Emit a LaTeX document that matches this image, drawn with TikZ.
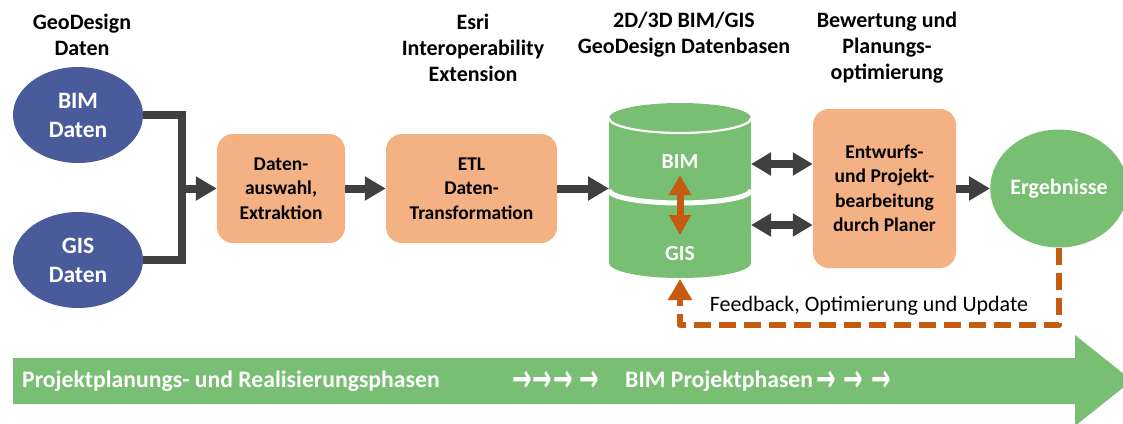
\documentclass[tikz,border=0pt]{standalone}
\usepackage{fontspec}
\usepackage{graphicx}
\setmainfont{Carlito}
\newfontfamily\dejavu{DejaVu Sans}
\usetikzlibrary{arrows.meta,shapes.geometric}
\definecolor{dblue}{HTML}{4A5B9B}
\definecolor{lorange}{HTML}{F4B183}
\definecolor{dorange}{HTML}{C55A11}
\definecolor{lgreen}{HTML}{78BE73}
\definecolor{dgray}{HTML}{404040}
\newcommand{\barr}{\scalebox{0.9}[1.45]{→}}
\tikzset{
  titletext/.style={font=\bfseries\fontsize{22}{26}\selectfont, align=center, text=black},
  procbox/.style={fill=lorange, rounded corners=16pt, font=\bfseries\fontsize{19.5}{24.5}\selectfont, align=center, inner sep=0pt},
  datell/.style={ellipse, fill=dblue, text=white, font=\bfseries\fontsize{23.5}{29}\selectfont, align=center, inner sep=0pt, minimum width=130pt, minimum height=96pt},
  garrow/.style={draw=dgray, line width=8pt, -{Triangle[length=21pt,width=23pt]}},
  gdouble/.style={draw=dgray, line width=8pt, {Triangle[length=20pt,width=22pt]}-{Triangle[length=20pt,width=22pt]}},
  odouble/.style={draw=dorange, line width=7pt, {Triangle[length=20pt,width=21pt]}-{Triangle[length=20pt,width=21pt]}},
  fbline/.style={draw=dorange, line width=6pt, dash pattern=on 17pt off 8pt, line join=round, -{Triangle[length=21pt,width=23pt]}},
  bartext/.style={font=\bfseries\fontsize{23.7}{28}\selectfont, text=white, anchor=west, inner sep=0pt},
  bararrows/.style={font=\dejavu\bfseries\fontsize{26}{30}\selectfont, text=white, anchor=west, inner sep=0pt},
  cyltext/.style={font=\bfseries\fontsize{21.5}{26}\selectfont, text=white, inner sep=0pt},
}
\begin{document}
\begin{tikzpicture}[x=1pt,y=-1pt]
\useasboundingbox (0,0) rectangle (1123,423);
% titles
\node[titletext] (t1) at (82,35) {GeoDesign\\Daten};
\node[titletext] (t2) at (473,48) {Esri\\Interoperability\\Extension};
\node[titletext] (t3) at (684,35) {2D/3D BIM/GIS\\GeoDesign Datenbasen};
\node[titletext] (t4) at (887,48) {Bewertung und\\Planungs-\\optimierung};
% data ellipses
\node[datell] (bim) at (78,115) {BIM\\Daten};
\node[datell] (gis) at (78,260) {GIS\\Daten};
% process boxes
\node[procbox, minimum width=128pt, minimum height=109pt] (box1) at (281,188.5) {Daten-\\auswahl,\\Extraktion};
\node[procbox, minimum width=171pt, minimum height=109pt] (box2) at (471.5,188.5) {ETL\\Daten-\\Transformation};
\node[procbox, minimum width=143pt, minimum height=159pt] (box3) at (884.5,188.5) {Entwurfs-\\und Projekt-\\bearbeitung\\durch Planer};
\node[ellipse, fill=lgreen, text=white, font=\bfseries\fontsize{22}{26}\selectfont, inner sep=0pt, minimum width=136pt, minimum height=118pt] (erg) at (1059,188.5) {Ergebnisse};
% cylinder
\fill[lgreen] (609,118) rectangle (751,263);
\fill[lgreen] (680,263) ellipse [x radius=71, y radius=15];
\fill[lgreen] (680,118) ellipse [x radius=71, y radius=15];
\draw[white, line width=2.2pt] (751,118) arc[start angle=0, end angle=180, x radius=71, y radius=15];
\draw[white, line width=5pt] (751,190) arc[start angle=0, end angle=180, x radius=71, y radius=13];
\node[cyltext] (cbim) at (680,162) {BIM};
\node[cyltext] (cgis) at (680,254) {GIS};
\coordinate (cylL) at (609,188.5);
\coordinate (cylR1) at (751,164);
\coordinate (cylR2) at (751,225);
\coordinate (cylB) at (680,279);
\coordinate (ob) at (680,175);
\coordinate (og) at (680,235);
% connectors
\coordinate (j) at (182,188.5);
\draw[dgray, line width=8pt] (bim.east) -| (j) |- (gis.east);
\draw[garrow] (j) -- (box1.west);
\draw[garrow] (box1.east) -- (box2.west);
\draw[garrow] (box2.east) -- (cylL);
\draw[gdouble] (cylR1) -- (box3.west |- cylR1);
\draw[gdouble] (cylR2) -- (box3.west |- cylR2);
\draw[garrow] (box3.east) -- (erg.west);
\draw[odouble] (ob) -- (og);
% feedback
\coordinate (fc1) at (1059,325);
\coordinate (fc2) at (680,325);
\draw[fbline] (erg.south) -- (fc1) -- (fc2) -- (cylB);
\node[font=\fontsize{22}{26}\selectfont, inner sep=0pt] (fbt) at (869,306) {Feedback, Optimierung und Update};
% big arrow
\fill[lgreen] (13,358) -- (1075,358) -- (1075,335) -- (1132,380.5) -- (1075,426) -- (1075,404) -- (13,404) -- cycle;
\node[bartext] (b1) at (22,381) {Projektplanungs- und Realisierungsphasen};
\node[bararrows] (b2) at (512,381) {\barr\kern1pt\barr\kern1pt\barr\kern6pt\barr};
\node[bartext] (b3) at (625,381) {BIM Projektphasen};
\node[bararrows] (b4) at (816,381) {\barr\kern8pt\barr\kern8pt\barr};
\end{tikzpicture}
\end{document}
